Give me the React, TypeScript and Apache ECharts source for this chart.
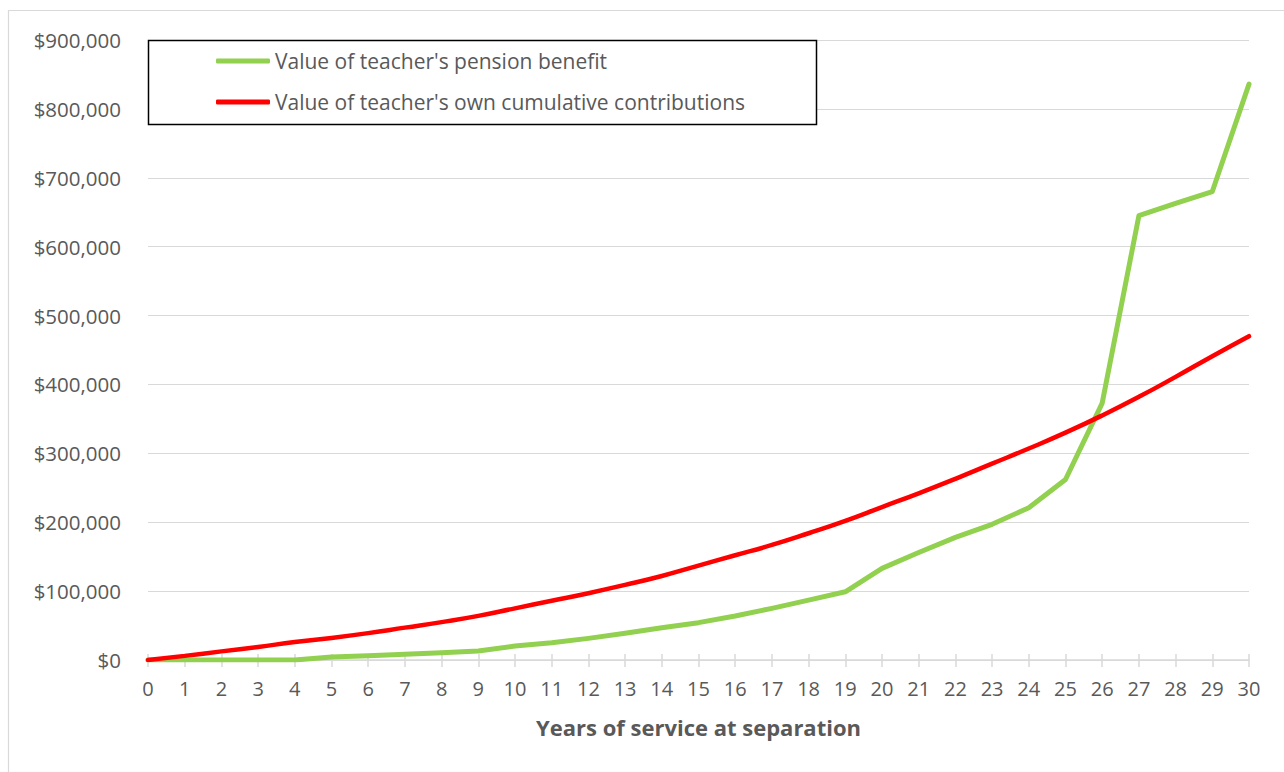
import React, { useEffect, useRef } from "react";
import * as echarts from "echarts";

const years: number[] = [
  0, 1, 2, 3, 4, 5, 6, 7, 8, 9, 10, 11, 12, 13, 14, 15, 16, 17, 18, 19, 20,
  21, 22, 23, 24, 25, 26, 27, 28, 29, 30,
];

const pensionBenefit: number[] = [
  0, 0, 0, 0, 0, 4500, 6300, 8200, 10600, 13000, 20300, 25000, 31400, 38700,
  46900, 54200, 63900, 75000, 87000, 99000, 133000, 156000, 178000, 197000,
  221000, 262000, 373000, 645000, 663000, 680000, 836000,
];

const ownContributions: number[] = [
  0, 6000, 12500, 19000, 26000, 32000, 39000, 47000, 55000, 64000, 75000,
  86000, 97000, 109000, 122000, 137000, 152000, 167000, 184000, 202000,
  222000, 242000, 263000, 285000, 307000, 330000, 355000, 382000, 411000,
  441000, 470000,
];

const seriesNames: string[] = [
  "Value of teacher's pension benefit",
  "Value of teacher's own cumulative contributions",
];

const xAxisTitle = "Years of service at separation";

const FONT = "'Open Sans', 'Liberation Sans', sans-serif";
const TEXT_COLOR = "#595959";
const GRID_COLOR = "#d9d9d9";

export default function App() {
  const ref = useRef<HTMLDivElement>(null);

  useEffect(() => {
    document.body.style.margin = "0";
    if (!ref.current) return;
    const chart = echarts.init(ref.current, undefined, { renderer: "svg" });

    const fmt = (v: number) =>
      "$" + Math.round(v).toString().replace(/\B(?=(\d{3})+(?!\d))/g, ",");

    const option: any = {
      animation: false,
      backgroundColor: "#ffffff",
      textStyle: { fontFamily: FONT },
      grid: { left: 148, right: 35, top: 40, bottom: 112, containLabel: false },
      xAxis: [
        {
          type: "value",
          min: 0,
          max: 30,
          interval: 1,
          name: xAxisTitle,
          nameLocation: "middle",
          nameGap: 56,
          nameTextStyle: {
            fontFamily: FONT,
            fontSize: 22,
            fontWeight: "bold",
            color: TEXT_COLOR,
          },
          axisLine: { show: true, lineStyle: { color: GRID_COLOR, width: 1.5 } },
          axisTick: {
            show: true,
            length: 7,
            inside: false,
            lineStyle: { color: GRID_COLOR, width: 1.5 },
          },
          axisLabel: {
            margin: 18,
            fontFamily: FONT,
            fontSize: 20,
            color: TEXT_COLOR,
          },
          splitLine: { show: false },
        },
        {
          type: "value",
          min: 0,
          max: 30,
          interval: 1,
          position: "bottom",
          axisLine: { show: false },
          axisTick: {
            show: true,
            length: 6,
            inside: true,
            lineStyle: { color: GRID_COLOR, width: 1.5 },
          },
          axisLabel: { show: false },
          splitLine: { show: false },
        },
      ],
      yAxis: {
        type: "value",
        min: 0,
        max: 900000,
        interval: 100000,
        axisLine: { show: false },
        axisTick: { show: false },
        axisLabel: {
          margin: 27,
          fontFamily: FONT,
          fontSize: 20.5,
          color: TEXT_COLOR,
          formatter: (v: number) => fmt(v),
        },
        splitLine: { show: true, lineStyle: { color: GRID_COLOR, width: 1.2 } },
      },
      legend: {
        show: true,
        orient: "vertical",
        left: 216,
        top: 50,
        padding: 0,
        itemWidth: 54,
        itemHeight: 5,
        itemGap: 19,
        icon: "roundRect",
        z: 10,
        textStyle: {
          fontFamily: FONT,
          fontSize: 21,
          color: TEXT_COLOR,
          lineHeight: 22,
        },
        data: seriesNames,
      },
      graphic: [
        {
          type: "rect",
          z: 0,
          silent: true,
          shape: { x: 8.5, y: 10.5, width: 1300, height: 800 },
          style: { fill: "none", stroke: GRID_COLOR, lineWidth: 1.2 },
        },
        {
          type: "rect",
          z: 5,
          silent: true,
          shape: { x: 148.5, y: 40.5, width: 668, height: 84 },
          style: { fill: "#ffffff", stroke: "#000000", lineWidth: 1.5 },
        },
      ],
      series: [
        {
          name: seriesNames[0],
          type: "line",
          data: years.map((y, i) => [y, pensionBenefit[i]]),
          showSymbol: false,
          symbol: "none",
          smooth: false,
          lineStyle: { color: "#92d050", width: 5, cap: "round", join: "round" },
          itemStyle: { color: "#92d050" },
          z: 3,
        },
        {
          name: seriesNames[1],
          type: "line",
          data: years.map((y, i) => [y, ownContributions[i]]),
          showSymbol: false,
          symbol: "none",
          smooth: true,
          lineStyle: { color: "#ff0000", width: 4.5, cap: "round", join: "round" },
          itemStyle: { color: "#ff0000" },
          z: 4,
        },
      ],
    };

    chart.setOption(option);
    return () => chart.dispose();
  }, []);

  return <div ref={ref} style={{ width: 1284, height: 772 }} />;
}
